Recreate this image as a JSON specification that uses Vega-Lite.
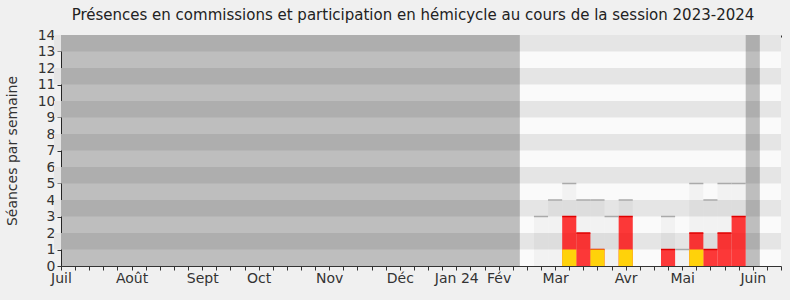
{
  "$schema": "https://vega.github.io/schema/vega-lite/v6.json",
  "width": 720,
  "height": 231,
  "autosize": "none",
  "padding": {"left": 61, "top": 35, "right": 9, "bottom": 34},
  "background": "#f0f0f0",
  "config": {
    "view": {"stroke": null, "fill": "#fafafa"},
    "font": "DejaVu Sans",
    "axis": {"labelFont": "DejaVu Sans", "titleFont": "DejaVu Sans", "labelColor": "#333", "titleColor": "#333", "domainColor": "#333", "tickColor": "#333", "grid": false, "labelOverlap": false, "labelFlush": false, "labelBound": false},
    "axisX": {"tickCount": 51,
      "labelExpr": "['Juil','','','','','Août','','','','','Sept','','','','Oct','','','','','Nov','','','','','Déc','','','','Jan 24','','','Fév','','','','Mar','','','','','Avr','','','','Mai','','','','','Juin','',''][datum.value] || ''",
      "labelFontSize": 14, "tickSize": 4, "labelPadding": 1, "labelOverlap": false},
    "axisY": {"tickCount": 14, "titleFontSize": 14, "titleFontWeight": "normal", "labelFontSize": 14, "tickSize": 4, "labelPadding": 2, "titlePadding": 18, "labelOverlap": false}
  },
  "title": {
    "text": "Présences en commissions et participation en hémicycle au cours de la session 2023-2024",
    "fontSize": 15, "fontWeight": "normal", "color": "#222", "font": "DejaVu Sans",
    "anchor": "middle", "offset": 5, "dx": -8
  },
  "datasets": {
    "bandes": [
      {"bas": 1, "haut": 2}, {"bas": 3, "haut": 4}, {"bas": 5, "haut": 6}, {"bas": 7, "haut": 8},
      {"bas": 9, "haut": 10}, {"bas": 11, "haut": 12}, {"bas": 13, "haut": 14}
    ],
    "vacances": [
      {"debut": -0.5, "fin": 32.5},
      {"debut": 48.5, "fin": 49.5}
    ],
    "semaines": [
      {"semaine": 33, "mediane": 0, "hemicycle": 0, "interventions": 0},
      {"semaine": 34, "mediane": 3, "hemicycle": 0, "interventions": 0},
      {"semaine": 35, "mediane": 4, "hemicycle": 0, "interventions": 0},
      {"semaine": 36, "mediane": 5, "hemicycle": 3, "interventions": 1},
      {"semaine": 37, "mediane": 4, "hemicycle": 2, "interventions": 0},
      {"semaine": 38, "mediane": 4, "hemicycle": 1, "interventions": 1},
      {"semaine": 39, "mediane": 3, "hemicycle": 0, "interventions": 0},
      {"semaine": 40, "mediane": 4, "hemicycle": 3, "interventions": 1},
      {"semaine": 41, "mediane": 0, "hemicycle": 0, "interventions": 0},
      {"semaine": 42, "mediane": 0, "hemicycle": 0, "interventions": 0},
      {"semaine": 43, "mediane": 3, "hemicycle": 1, "interventions": 0},
      {"semaine": 44, "mediane": 1, "hemicycle": 0, "interventions": 0},
      {"semaine": 45, "mediane": 5, "hemicycle": 2, "interventions": 1},
      {"semaine": 46, "mediane": 4, "hemicycle": 1, "interventions": 0},
      {"semaine": 47, "mediane": 5, "hemicycle": 2, "interventions": 0},
      {"semaine": 48, "mediane": 5, "hemicycle": 3, "interventions": 0},
      {"semaine": 50, "mediane": 0, "hemicycle": 0, "interventions": 0}
    ]
  },
  "resolve": {"axis": {"x": "independent"}},
  "layer": [
    {
      "layer": [
        {
          "data": {"name": "bandes"},
          "mark": {"type": "rect", "color": "#e5e5e5"},
          "encoding": {
            "x": {"datum": -0.5, "type": "quantitative", "scale": {"domain": [0, 51], "nice": false, "zero": false, "padding": 0}, "title": null},
            "x2": {"datum": 51},
            "y": {"field": "bas", "type": "quantitative", "scale": {"domain": [0, 14], "nice": false, "padding": 0}, "title": "Séances par semaine"},
            "y2": {"field": "haut"}
          }
        },
        {
          "data": {"name": "semaines"},
          "transform": [{"filter": "datum.mediane > 0"}],
          "mark": {"type": "bar", "orient": "vertical", "width": 14.12, "color": "#000", "opacity": 0.03},
          "encoding": {
            "x": {"field": "semaine", "type": "quantitative", "title": null},
            "y": {"field": "mediane", "type": "quantitative", "title": "Séances par semaine"}
          }
        },
        {
          "data": {"name": "vacances"},
          "mark": {"type": "rect", "color": "#000", "opacity": 0.24, "clip": true},
          "encoding": {
            "x": {"field": "debut", "type": "quantitative", "title": null},
            "x2": {"field": "fin"},
            "y": {"datum": 0, "type": "quantitative", "title": "Séances par semaine"},
            "y2": {"datum": 14}
          }
        },
        {
          "data": {"name": "semaines"},
          "transform": [{"filter": "datum.hemicycle > 0"}],
          "mark": {"type": "bar", "orient": "vertical", "width": 14.12, "color": "#ff0000", "opacity": 0.77},
          "encoding": {
            "x": {"field": "semaine", "type": "quantitative", "title": null},
            "y": {"field": "hemicycle", "type": "quantitative", "title": "Séances par semaine"}
          }
        },
        {
          "data": {"name": "semaines"},
          "transform": [{"filter": "datum.hemicycle > 0"}],
          "mark": {"type": "tick", "orient": "horizontal", "size": 14.12, "thickness": 1.5, "color": "#e00000", "opacity": 1},
          "encoding": {
            "x": {"field": "semaine", "type": "quantitative", "title": null},
            "y": {"field": "hemicycle", "type": "quantitative", "title": "Séances par semaine"}
          }
        },
        {
          "data": {"name": "semaines"},
          "transform": [{"filter": "datum.interventions > 0"}],
          "mark": {"type": "bar", "orient": "vertical", "width": 14.12, "color": "#ffd20a", "opacity": 1},
          "encoding": {
            "x": {"field": "semaine", "type": "quantitative", "title": null},
            "y": {"field": "interventions", "type": "quantitative", "title": "Séances par semaine"}
          }
        },
        {
          "data": {"name": "semaines"},
          "transform": [{"filter": "datum.mediane > 0"}],
          "mark": {"type": "tick", "orient": "horizontal", "size": 14.12, "thickness": 1.5, "color": "#aaaaaa", "opacity": 1},
          "encoding": {
            "x": {"field": "semaine", "type": "quantitative", "title": null},
            "y": {"field": "mediane", "type": "quantitative", "title": "Séances par semaine"}
          }
        }
      ]
    },
    {
      "data": {"name": "vacances"},
      "mark": {"type": "rect", "opacity": 0},
      "encoding": {
        "x": {"field": "debut", "type": "quantitative", "axis": {"orient": "top", "labels": false, "domain": false, "tickSize": -2, "title": null}},
        "x2": {"field": "fin"},
        "y": {"datum": 0, "type": "quantitative", "title": "Séances par semaine"},
        "y2": {"datum": 14}
      }
    }
  ]
}
